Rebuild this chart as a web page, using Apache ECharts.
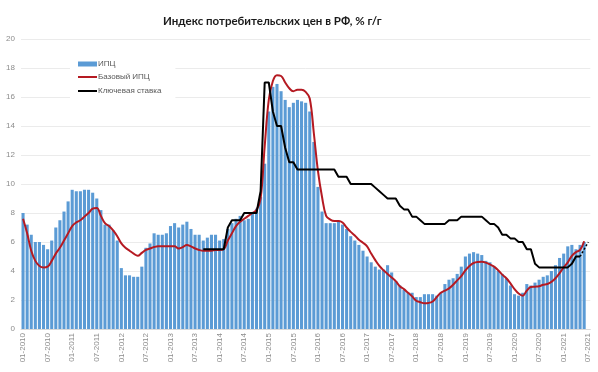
<!DOCTYPE html>
<html><head><meta charset="utf-8">
<script src="https://cdn.jsdelivr.net/npm/echarts@6/dist/echarts.min.js"></script>
<style>html,body{margin:0;padding:0;background:#fff}#c{width:598px;height:372px}</style>
</head><body><div id="c"></div>
<script>
// Categories: monthly, 01-2010 .. 07-2021
const startYear = 2010, nMonths = 139;
const categories = [];
for (let i = 0; i < nMonths; i++) {
  const m = (i % 12) + 1, y = startYear + Math.floor(i / 12);
  categories.push((m < 10 ? '0' : '') + m + '-' + y);
}
const yTicks = [0, 2, 4, 6, 8, 10, 12, 14, 16, 18, 20];

// CPI y/y (bars), by year
const cpi2010 = [8.0, 7.2, 6.5, 6.0, 6.0, 5.8, 5.5, 6.1, 7.0, 7.5, 8.1, 8.8];
const cpi2011 = [9.6, 9.5, 9.5, 9.6, 9.6, 9.4, 9.0, 8.2, 7.2, 7.2, 6.8, 6.1];
const cpi2012 = [4.2, 3.7, 3.7, 3.6, 3.6, 4.3, 5.6, 5.9, 6.6, 6.5, 6.5, 6.6];
const cpi2013 = [7.1, 7.3, 7.0, 7.2, 7.4, 6.9, 6.5, 6.5, 6.1, 6.3, 6.5, 6.5];
const cpi2014 = [6.1, 6.2, 6.9, 7.3, 7.6, 7.8, 7.5, 7.6, 8.0, 8.3, 9.1, 11.4];
const cpi2015 = [15.0, 16.7, 16.9, 16.4, 15.8, 15.3, 15.6, 15.8, 15.7, 15.6, 15.0, 12.9];
const cpi2016 = [9.8, 8.1, 7.3, 7.3, 7.3, 7.5, 7.2, 6.9, 6.4, 6.1, 5.8, 5.4];
const cpi2017 = [5.0, 4.6, 4.3, 4.1, 4.1, 4.4, 3.9, 3.3, 3.0, 2.7, 2.5, 2.5];
const cpi2018 = [2.2, 2.2, 2.4, 2.4, 2.4, 2.3, 2.5, 3.1, 3.4, 3.5, 3.8, 4.3];
const cpi2019 = [5.0, 5.2, 5.3, 5.2, 5.1, 4.7, 4.6, 4.3, 4.0, 3.8, 3.5, 3.0];
const cpi2020 = [2.4, 2.3, 2.5, 3.1, 3.0, 3.2, 3.4, 3.6, 3.7, 4.0, 4.4, 4.9];
const cpi2021 = [5.2, 5.7, 5.8, 5.5, 5.8, 6.0];

// Core CPI y/y (red line), by year
const core2010 = [7.6, 6.6, 5.4, 4.7, 4.35, 4.25, 4.3, 4.7, 5.2, 5.6, 6.1, 6.6];
const core2011 = [7.1, 7.35, 7.5, 7.75, 8.0, 8.3, 8.35, 7.8, 7.3, 7.1, 6.8, 6.4];
const core2012 = [5.9, 5.6, 5.4, 5.2, 5.05, 5.25, 5.45, 5.55, 5.65, 5.7, 5.7, 5.7];
const core2013 = [5.7, 5.7, 5.55, 5.65, 5.8, 5.7, 5.55, 5.45, 5.4, 5.4, 5.4, 5.45];
const core2014 = [5.45, 5.5, 6.1, 6.6, 7.1, 7.4, 7.6, 7.8, 8.0, 8.2, 9.0, 12.6];
const core2015 = [15.8, 17.1, 17.5, 17.45, 17.0, 16.6, 16.4, 16.5, 16.5, 16.35, 15.9, 13.5];
const core2016 = [10.9, 9.1, 7.8, 7.55, 7.45, 7.45, 7.35, 7.0, 6.7, 6.45, 6.15, 5.95];
const core2017 = [5.7, 5.2, 4.75, 4.35, 4.05, 3.8, 3.55, 3.3, 2.95, 2.75, 2.5, 2.25];
const core2018 = [1.95, 1.85, 1.78, 1.8, 1.9, 2.2, 2.5, 2.65, 2.8, 3.05, 3.35, 3.65];
const core2019 = [4.05, 4.35, 4.55, 4.62, 4.63, 4.58, 4.45, 4.3, 4.05, 3.75, 3.5, 3.15];
const core2020 = [2.75, 2.45, 2.3, 2.65, 2.9, 2.92, 2.95, 3.05, 3.1, 3.25, 3.5, 3.85];
const core2021 = [4.25, 4.6, 5.05, 5.3, 5.45, 6.05];

// Key rate (black line), from 09-2013
const keyStartIndex = 44;
const key2013 = [5.5, 5.5, 5.5, 5.5];
const key2014 = [5.5, 5.5, 7.0, 7.5, 7.5, 7.5, 8.0, 8.0, 8.0, 8.0, 9.5, 17];
const key2015 = [17, 15, 14, 14, 12.5, 11.5, 11.5, 11, 11, 11, 11, 11];
const key2016 = [11, 11, 11, 11, 11, 10.5, 10.5, 10.5, 10, 10, 10, 10];
const key2017 = [10, 10, 9.75, 9.5, 9.25, 9.0, 9.0, 9.0, 8.5, 8.25, 8.25, 7.75];
const key2018 = [7.75, 7.5, 7.25, 7.25, 7.25, 7.25, 7.25, 7.25, 7.5, 7.5, 7.5, 7.75];
const key2019 = [7.75, 7.75, 7.75, 7.75, 7.75, 7.5, 7.25, 7.25, 7.0, 6.5, 6.5, 6.25];
const key2020 = [6.25, 6.0, 6.0, 5.5, 5.5, 4.5, 4.25, 4.25, 4.25, 4.25, 4.25, 4.25];
const key2021 = [4.25, 4.25, 4.5, 5.0, 5.0];
// Dotted continuation (05-2021 .. 07-2021)
const keyDottedStart = 136;
const keyDotted = [5.0, 5.5, 6.0];

const cpi = [].concat(cpi2010, cpi2011, cpi2012, cpi2013, cpi2014, cpi2015, cpi2016, cpi2017, cpi2018, cpi2019, cpi2020, cpi2021);
const core = [].concat(core2010, core2011, core2012, core2013, core2014, core2015, core2016, core2017, core2018, core2019, core2020, core2021);
const keyVals = [].concat(key2013, key2014, key2015, key2016, key2017, key2018, key2019, key2020, key2021);
const keyRate = categories.map((_, i) => (i >= keyStartIndex && i - keyStartIndex < keyVals.length) ? keyVals[i - keyStartIndex] : null);
const keyRateDotted = categories.map((_, i) => (i >= keyDottedStart && i - keyDottedStart < keyDotted.length) ? keyDotted[i - keyDottedStart] : null);

const gray = '#8c8c8c';
const legendText = {fontFamily: 'Liberation Sans', fontSize: 8, color: '#595959', padding: [0, 0, 0, -4]};
const chart = echarts.init(document.getElementById('c'), null, {renderer: 'canvas'});
chart.setOption({
  animation: false,
  backgroundColor: '#fff',
  title: {
    text: 'Индекс потребительских цен в РФ, % г/г',
    left: 158, top: 10,
    textStyle: {fontFamily: 'Lato', fontWeight: 'bold', fontSize: 11.5, color: '#1a1a1a'}
  },
  legend: [
    {data: [{name: 'ИПЦ', icon: 'rect'}], left: 70, top: 56, itemWidth: 19, itemHeight: 5,
     padding: [4, 60, 30, 8], backgroundColor: '#fff', textStyle: legendText},
    {data: [{name: 'Базовый ИПЦ', icon: 'rect'}], left: 78, top: 73, itemWidth: 19, itemHeight: 2,
     padding: 0, textStyle: legendText},
    {data: [{name: 'Ключевая ставка', icon: 'rect'}], left: 78, top: 87, itemWidth: 19, itemHeight: 2,
     padding: 0, textStyle: legendText}
  ],
  grid: {left: 21, right: 7.7, top: 39, bottom: 43, containLabel: false},
  xAxis: {
    type: 'category', data: categories,
    axisLine: {show: true, lineStyle: {color: '#d9d9d9'}},
    axisTick: {show: false},
    axisLabel: {interval: 5, rotate: 90, fontSize: 8, color: gray, fontFamily: 'Liberation Sans', margin: 4}
  },
  yAxis: {
    type: 'value', min: yTicks[0], max: yTicks[yTicks.length - 1], interval: 2,
    axisLine: {show: false}, axisTick: {show: false},
    axisLabel: {fontSize: 8, color: gray, fontFamily: 'Liberation Sans', margin: 6},
    splitLine: {lineStyle: {color: '#ebebeb', width: 1}}
  },
  series: [
    {name: 'ИПЦ', type: 'bar', data: cpi, barCategoryGap: '25%',
     itemStyle: {color: '#5b9bd5'}, z: 1},
    {name: 'Базовый ИПЦ', type: 'line', data: core, smooth: 0.4, symbol: 'none',
     lineStyle: {color: '#b51a22', width: 2}, itemStyle: {color: '#b51a22'}, z: 3},
    {name: 'Ключевая ставка', type: 'line', data: keyRate, symbol: 'none',
     lineStyle: {color: '#000', width: 2}, itemStyle: {color: '#000'}, z: 4},
    {name: 'Ключевая ставка (прогноз)', type: 'line', data: keyRateDotted, symbol: 'none',
     lineStyle: {color: '#000', width: 1.5, type: [2, 2]}, z: 4}
  ]
});
</script></body></html>
